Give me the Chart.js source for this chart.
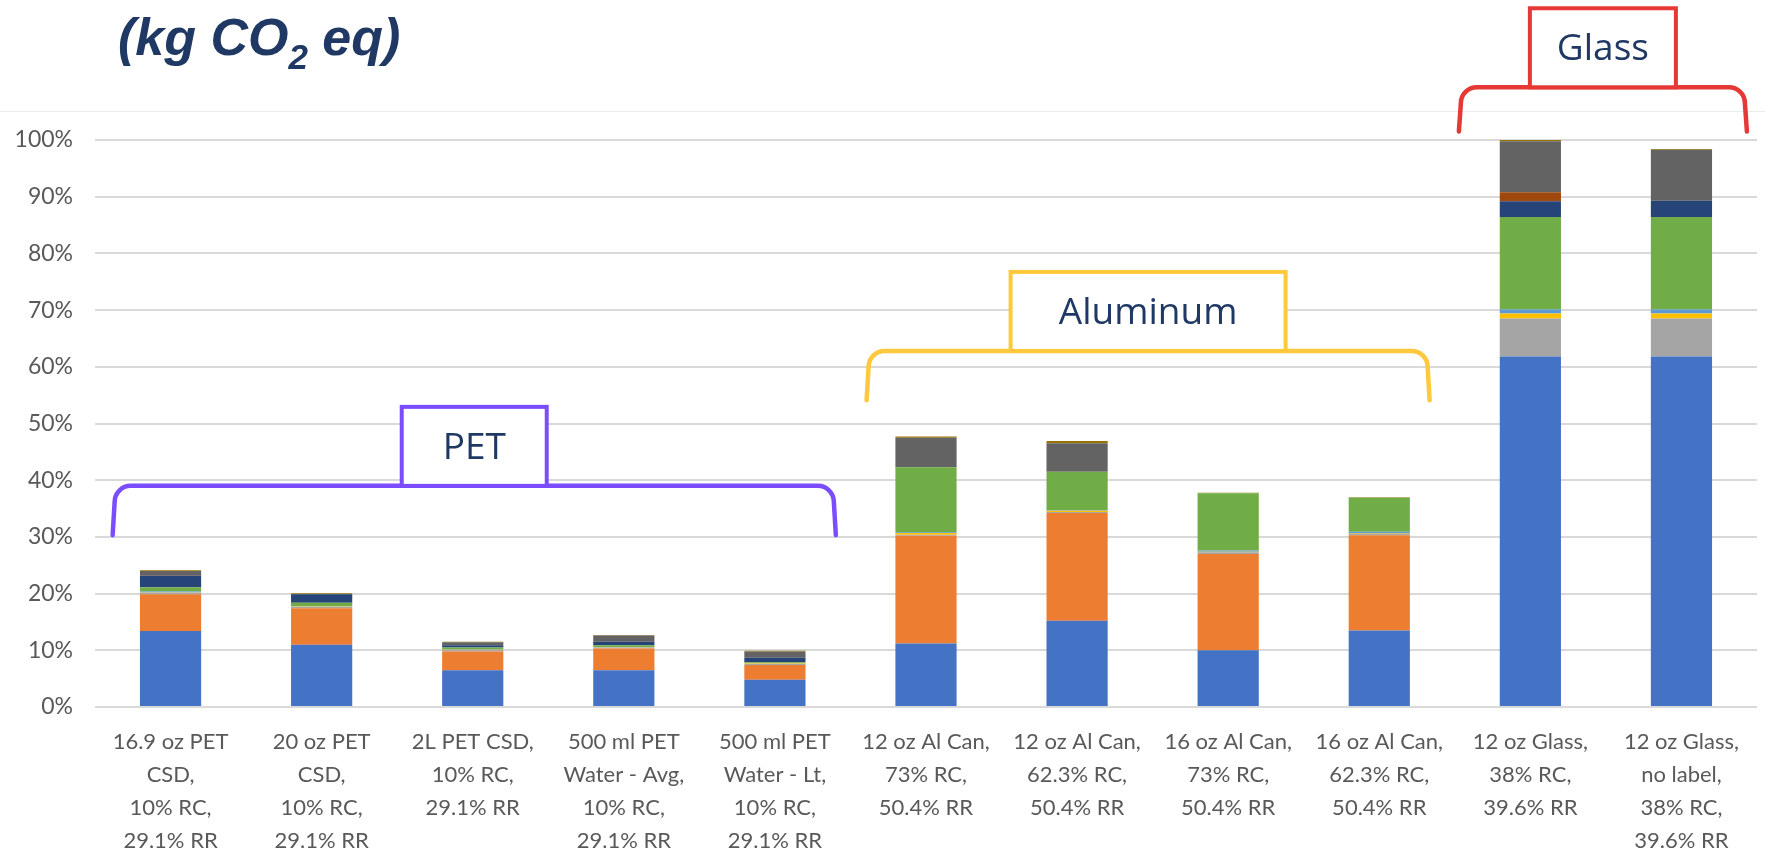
<!DOCTYPE html>
<html>
<head>
<meta charset="utf-8">
<script src="https://cdn.jsdelivr.net/npm/chart.js@4/dist/chart.umd.min.js"></script>
<style>
  html, body { margin: 0; padding: 0; background: #ffffff; }
  #wrap { position: relative; width: 1765px; height: 854px; overflow: hidden; }
  #frame { position: absolute; left: 0; top: 111px; width: 1765px; border-top: 1px solid #ececec; }
  #unit {
    position: absolute; left: 118px; top: 7px;
    font-family: "Liberation Sans", Arial, sans-serif; font-weight: bold; font-style: italic;
    font-size: 52px; line-height: 60px; color: #1f3864; white-space: nowrap;
  }
  #unit sub { font-size: 35px; vertical-align: -14px; line-height: 0; }
  canvas { position: absolute; left: 0; top: 0; }
</style>
</head>
<body>
<div id="wrap">
  <div id="frame"></div>
  <canvas id="c" width="1765" height="854"></canvas>
  <div id="unit">(kg CO<sub>2</sub> eq)</div>
</div>
<script>
// Container scenarios (x categories)
const categories = [
  ["16.9 oz PET", "CSD,", "10% RC,", "29.1% RR"],
  ["20 oz PET", "CSD,", "10% RC,", "29.1% RR"],
  ["2L PET CSD,", "10% RC,", "29.1% RR"],
  ["500 ml PET", "Water - Avg,", "10% RC,", "29.1% RR"],
  ["500 ml PET", "Water - Lt,", "10% RC,", "29.1% RR"],
  ["12 oz Al Can,", "73% RC,", "50.4% RR"],
  ["12 oz Al Can,", "62.3% RC,", "50.4% RR"],
  ["16 oz Al Can,", "73% RC,", "50.4% RR"],
  ["16 oz Al Can,", "62.3% RC,", "50.4% RR"],
  ["12 oz Glass,", "38% RC,", "39.6% RR"],
  ["12 oz Glass,", "no label,", "38% RC,", "39.6% RR"]
];

// Stacked contributions, % of the largest total
const series1  = [13.4, 11.0, 6.5, 6.5, 4.8, 11.2, 15.2, 10.0, 13.5, 61.8, 61.8];
const series2  = [6.5, 6.4, 3.3, 3.8, 2.6, 19.0, 19.0, 17.0, 16.8, 0, 0];
const series3  = [0.3, 0.3, 0.3, 0.2, 0.2, 0.2, 0.2, 0.3, 0.2, 6.7, 6.7];
const series4  = [0.05, 0.05, 0.05, 0.05, 0.05, 0.3, 0.2, 0.1, 0.1, 0.9, 0.9];
const series5  = [0.1, 0.05, 0.05, 0.05, 0.05, 0.1, 0.1, 0.2, 0.3, 0.7, 0.7];
const series6  = [0.75, 0.6, 0.3, 0.3, 0.2, 11.5, 6.8, 10.1, 6.0, 16.3, 16.3];
const series7  = [2.1, 1.5, 0.4, 0.6, 0.8, 0, 0, 0, 0, 2.8, 2.9];
const series8  = [0.1, 0, 0, 0, 0, 0, 0, 0, 0, 1.6, 0];
const series9  = [0.7, 0.05, 0.5, 1.1, 1.1, 5.2, 5.0, 0, 0, 9.0, 9.0];
const series10 = [0.1, 0.1, 0.1, 0.1, 0.1, 0.2, 0.4, 0.1, 0.1, 0.2, 0.1];

const yTicks = [0, 10, 20, 30, 40, 50, 60, 70, 80, 90, 100];

// Material group brackets: first/last category index
const groupNames = ["PET", "Aluminum", "Glass"];
const groupFirst = [0, 5, 9];
const groupLast  = [4, 8, 10];

const palette = ['#4472C4', '#ED7D31', '#A5A5A5', '#FFC000', '#5B9BD5',
                 '#70AD47', '#264478', '#9E480E', '#636363', '#997300'];
const allSeries = [series1, series2, series3, series4, series5,
                   series6, series7, series8, series9, series10];

const datasets = allSeries.map((vals, i) => ({
  label: 'Series ' + (i + 1),
  data: vals,
  backgroundColor: palette[i],
  borderWidth: 0,
  categoryPercentage: 1.0,
  barPercentage: 0.405
}));

// Bracket geometry in scale units / category offsets
const bracketStyle = [
  { color: '#7c4dff', left: -0.37, right: 0.39, line: 39, drop: 30.3, box: 145 },
  { color: '#ffc83d', left: -0.38, right: 0.32, line: 62.8, drop: 54.1, box: 275 },
  { color: '#e53935', left: -0.46, right: 0.42, line: 109.3, drop: 101.5, box: 146 }
];

const bracketPlugin = {
  id: 'groupBrackets',
  afterDraw(chart) {
    const ctx = chart.ctx;
    const xs = chart.scales.x, ys = chart.scales.y;
    const step = xs.getPixelForValue(1) - xs.getPixelForValue(0);
    ctx.save();
    groupNames.forEach((name, g) => {
      const st = bracketStyle[g];
      const l = xs.getPixelForValue(groupFirst[g]) + st.left * step;
      const r = xs.getPixelForValue(groupLast[g]) + st.right * step;
      const yl = ys.getPixelForValue(st.line);
      const yd = ys.getPixelForValue(st.drop);
      const rad = 16;
      ctx.strokeStyle = st.color;
      ctx.lineWidth = 4.5;
      ctx.lineJoin = 'round';
      ctx.lineCap = 'round';
      ctx.beginPath();
      ctx.moveTo(l - 2, yd);
      ctx.lineTo(l, yl + rad);
      ctx.arcTo(l, yl, l + rad, yl, rad);
      ctx.lineTo(r - rad, yl);
      ctx.arcTo(r, yl, r, yl + rad, rad);
      ctx.lineTo(r + 2, yd);
      ctx.stroke();
      // label box sitting on the bracket
      const cx = (l + r) / 2;
      const bw = st.box, bh = 79;
      ctx.fillStyle = '#ffffff';
      ctx.fillRect(cx - bw / 2, yl - bh, bw, bh);
      ctx.lineWidth = 4;
      ctx.lineJoin = 'miter';
      ctx.strokeRect(cx - bw / 2, yl - bh, bw, bh);
      ctx.fillStyle = '#1f3864';
      ctx.font = '37px "Open Sans", Lato, sans-serif';
      ctx.textAlign = 'center';
      ctx.textBaseline = 'middle';
      ctx.fillText(name, cx, yl - bh / 2 + 2);
    });
    ctx.restore();
  }
};

new Chart(document.getElementById('c'), {
  type: 'bar',
  data: { labels: categories, datasets },
  options: {
    responsive: false,
    animation: false,
    devicePixelRatio: 1,
    layout: { padding: { top: 140, right: 8, left: 0, bottom: 0 } },
    plugins: { legend: { display: false }, tooltip: { enabled: false }, title: { display: false } },
    scales: {
      x: {
        stacked: true,
        grid: { display: false, drawTicks: false },
        border: { display: false },
        ticks: {
          color: '#595959',
          padding: 18,
          maxRotation: 0,
          autoSkip: false,
          font: { family: 'Lato, "Open Sans", sans-serif', size: 22, lineHeight: 1.5 }
        },
        afterFit(scale) { scale.height = 147; }
      },
      y: {
        stacked: true,
        min: 0,
        max: 100,
        afterBuildTicks(scale) { scale.ticks = yTicks.map(v => ({ value: v })); },
        grid: { color: '#d9d9d9', lineWidth: 2, drawTicks: false },
        border: { display: false },
        ticks: {
          color: '#595959',
          padding: 22,
          font: { family: 'Lato, "Open Sans", sans-serif', size: 23 },
          callback: v => v + '%'
        },
        afterFit(scale) { scale.width = 95; }
      }
    }
  },
  plugins: [bracketPlugin]
});
</script>
</body>
</html>
